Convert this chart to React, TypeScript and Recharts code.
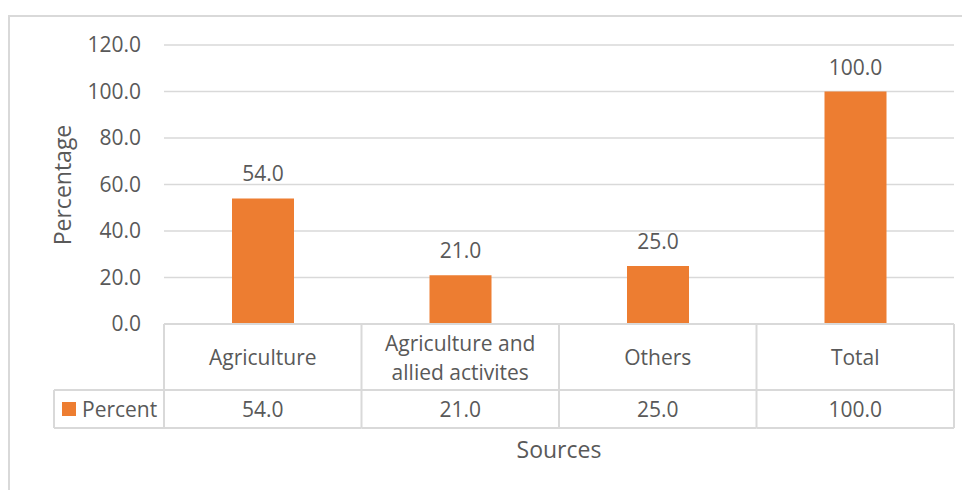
import React from 'react'
import { BarChart, Bar, XAxis, YAxis, CartesianGrid, LabelList } from 'recharts'

// values
const categories = ['Agriculture', 'Agriculture and allied activites', 'Others', 'Total']
const percent = [54.0, 21.0, 25.0, 100.0]
const yTicks = [0, 20, 40, 60, 80, 100, 120]
const seriesName = 'Percent'
const xTitle = 'Sources'
const yTitle = 'Percentage'

const data = categories.map((c, i) => ({ source: c, percent: percent[i] }))

const FONT = "'Open Sans', sans-serif"
const TEXT = '#595959'
const GRID = '#D9D9D9'
const ORANGE = '#ED7D31'
const FS = 21
const TITLE_FS = 23

const W = 962
const H = 482
const M = { top: 37, right: 16, left: 0, bottom: 26 }
const Y_W = 156
const X_H = 140
const BAND = (W - M.left - M.right - Y_W) / categories.length
const HEAD_H = 66
const ROW_H = 38
const LINE_H = 29

const txt = { fill: TEXT, fontSize: FS, fontFamily: FONT }
const titleTxt = { fill: TEXT, fontSize: TITLE_FS, fontFamily: FONT }

let ctx: CanvasRenderingContext2D | null = null
function measure(s: string) {
    if (!ctx) ctx = document.createElement('canvas').getContext('2d')
    if (!ctx) return s.length * FS * 0.5
    ctx.font = `${FS}px 'Open Sans'`
    return ctx.measureText(s).width
}

// split a label into lines that fit the table cell
function wrap(label: string, maxW: number) {
    const words = label.split(' ')
    const lines: string[] = []
    let cur = ''
    words.forEach((w) => {
        const next = cur ? cur + ' ' + w : w
        if (cur && measure(next) > maxW) {
            lines.push(cur)
            cur = w
        } else cur = next
    })
    if (cur) lines.push(cur)
    return lines
}

// category labels + data table row drawn as the x axis ticks
function TableTick(props: any) {
    const { x, y, payload } = props
    const i = payload.index
    const left = x - BAND / 2
    const right = x + BAND / 2
    const rowTop = y + HEAD_H
    const rowBot = rowTop + ROW_H
    const last = i === categories.length - 1
    const lines = wrap(String(payload.value), BAND - 36)
    const cy = y + HEAD_H / 2
    return (
        <g>
            <line x1={left} y1={y} x2={left} y2={rowBot} stroke={GRID} strokeWidth={2} />
            {last && <line x1={right} y1={y} x2={right} y2={rowBot} stroke={GRID} strokeWidth={2} />}
            <line x1={left} y1={rowTop} x2={right} y2={rowTop} stroke={GRID} strokeWidth={2} />
            <line x1={left} y1={rowBot} x2={right} y2={rowBot} stroke={GRID} strokeWidth={2} />
            <text textAnchor="middle" dominantBaseline="central" {...txt}>
                {lines.map((l, k) => (
                    <tspan key={k} x={x} y={cy + (k - (lines.length - 1) / 2) * LINE_H}>
                        {l}
                    </tspan>
                ))}
            </text>
            <text x={x} y={rowTop + ROW_H / 2} textAnchor="middle" dominantBaseline="central" {...txt}>
                {percent[i].toFixed(1)}
            </text>
            {i === 0 && (
                <g>
                    <line x1={46} y1={rowTop} x2={left} y2={rowTop} stroke={GRID} strokeWidth={2} />
                    <line x1={46} y1={rowBot} x2={left} y2={rowBot} stroke={GRID} strokeWidth={2} />
                    <line x1={46} y1={rowTop} x2={46} y2={rowBot} stroke={GRID} strokeWidth={2} />
                    <rect x={54} y={rowTop + 12} width={14} height={14} fill={ORANGE} />
                    <text x={74} y={rowTop + ROW_H / 2} dominantBaseline="central" {...txt}>
                        {seriesName}
                    </text>
                </g>
            )}
        </g>
    )
}

export default function App() {
    return (
        <div style={{ position: 'relative', width: W, height: H }}>
            <div
                style={{
                    position: 'absolute', left: 0, top: 7, width: W + 20, height: H + 20,
                    borderTop: `2px solid ${GRID}`, borderLeft: `2px solid ${GRID}`,
                }}
            />
            <div style={{ position: 'absolute', left: 0, top: 0 }}>
                <BarChart width={W} height={H} data={data} margin={M} barSize={62}>
                    <CartesianGrid vertical={false} stroke={GRID} strokeWidth={1.5} />
                    <XAxis
                        dataKey="source"
                        height={X_H}
                        interval={0}
                        tickSize={0}
                        tickMargin={0}
                        tickLine={false}
                        axisLine={{ stroke: GRID, strokeWidth: 2 }}
                        tick={<TableTick />}
                        label={{
                            value: xTitle,
                            content: (p: any) => (
                                <text
                                    x={p.viewBox.x + p.viewBox.width / 2}
                                    y={441}
                                    textAnchor="middle"
                                    dominantBaseline="central"
                                    {...titleTxt}
                                >
                                    {xTitle}
                                </text>
                            ),
                        }}
                    />
                    <YAxis
                        width={Y_W}
                        domain={[0, 120]}
                        ticks={yTicks}
                        axisLine={false}
                        tickLine={false}
                        tickSize={0}
                        tickMargin={23}
                        tick={txt}
                        tickFormatter={(v: number) => v.toFixed(1)}
                        label={{
                            value: yTitle,
                            content: (p: any) => {
                                const cy = p.viewBox.y + p.viewBox.height / 2 + 0.5
                                return (
                                    <text
                                        x={54}
                                        y={cy}
                                        transform={`rotate(-90, 54, ${cy})`}
                                        textAnchor="middle"
                                        dominantBaseline="central"
                                        {...titleTxt}
                                    >
                                        {yTitle}
                                    </text>
                                )
                            },
                        }}
                    />
                    <Bar dataKey="percent" name={seriesName} fill={ORANGE} isAnimationActive={false}>
                        <LabelList
                            dataKey="percent"
                            position="top"
                            offset={17}
                            formatter={(v: any) => Number(v).toFixed(1)}
                            style={{ fill: TEXT, fontSize: FS, fontFamily: FONT }}
                        />
                    </Bar>
                </BarChart>
            </div>
        </div>
    )
}
